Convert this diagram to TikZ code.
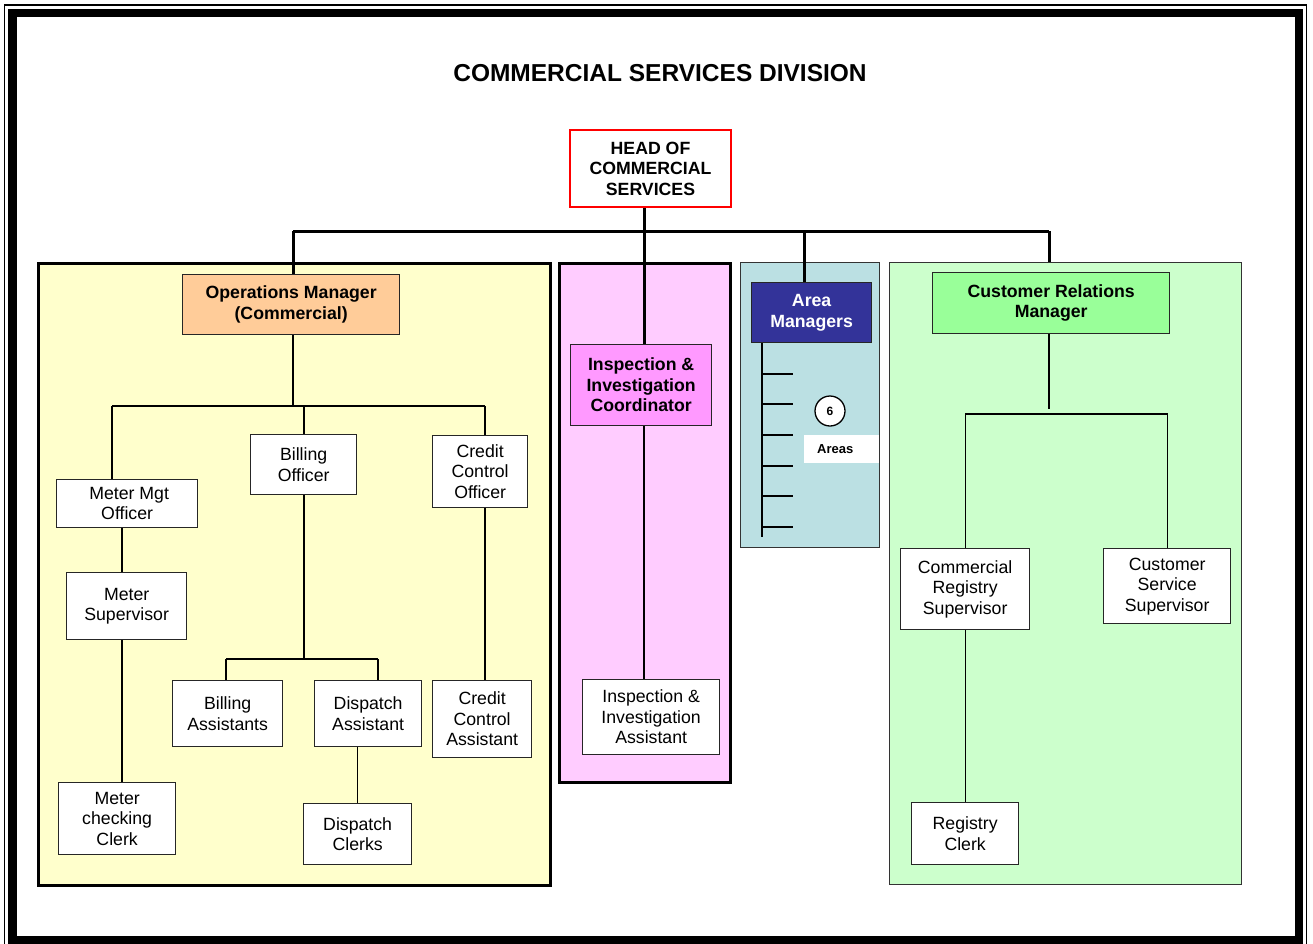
\documentclass[tikz,border=0pt]{standalone}
\usepackage{fontspec}
\setmainfont{Liberation Sans}
\usetikzlibrary{calc}

\definecolor{opspanel}{HTML}{FFFFCC}
\definecolor{insppanel}{HTML}{FFCCFF}
\definecolor{areapanel}{HTML}{BBE0E3}
\definecolor{custpanel}{HTML}{CCFFCC}
\definecolor{opsfill}{HTML}{FFCC99}
\definecolor{inspfill}{HTML}{FF99FF}
\definecolor{areafill}{HTML}{333399}
\definecolor{custfill}{HTML}{99FF99}

\begin{document}
\begin{tikzpicture}[x=1pt,y=-1pt,
  box/.style={draw=black!85, line width=1.3pt, fill=white, inner sep=0pt,
    align=center, anchor=north west, font=\fontsize{17.7}{20.5}\selectfont},
  bbox/.style={box, font=\bfseries\fontsize{17.7}{20.5}\selectfont},
  sz/.style n args={2}{minimum width=#1, minimum height=#2},
  panel/.style={inner sep=0pt, anchor=north west},
  link/.style={line width=1.3pt, black},
  bus/.style={line width=3pt, black}]

\useasboundingbox (0,0) rectangle (1313,943);

% double frame
\draw[line width=1.3pt] (4.5,5) rectangle (1306.5,946);
\draw[line width=8.5pt] (12.5,13) rectangle (1299,940);

% title
\node[font=\bfseries\fontsize{24.5}{28}\selectfont] (title) at (660,73) {COMMERCIAL SERVICES DIVISION};

% section panels
\node[panel, sz={512}{622}, fill=opspanel, draw=black, line width=2.5pt] (yp) at (37,262) {};
\node[panel, sz={171}{519}, fill=insppanel, draw=black, line width=2.5pt] (pp) at (558,262) {};
\node[panel, sz={139}{285}, fill=areapanel, draw=black!80, line width=1.3pt] (tp) at (740,262) {};
\node[panel, sz={352}{622}, fill=custpanel, draw=black!80, line width=1.3pt] (gp) at (889,262) {};

% head
\node[bbox, sz={161}{77}, draw=red, line width=2pt] (head) at (569,129) {HEAD OF\\COMMERCIAL\\SERVICES};

% operations
\node[bbox, sz={217}{60}, fill=opsfill] (opsm) at (182,274) {Operations Manager\\(Commercial)};
\node[box, sz={141}{48}] (mmo) at (56,479) {\hspace*{4pt}Meter Mgt\\Officer};
\node[box, sz={120}{67}] (msup) at (66,572) {Meter\\Supervisor};
\node[box, sz={117}{72}] (mcc) at (58,782) {Meter\\checking\\Clerk};
\node[box, sz={106}{60}] (bo) at (250,434) {Billing\\Officer};
\node[box, sz={95}{72}] (cco) at (432,435) {Credit\\Control\\Officer};
\node[box, sz={110}{66}] (ba) at (172,680) {Billing\\Assistants};
\node[box, sz={107}{66}] (da) at (314,680) {Dispatch\\Assistant};
\node[box, sz={108}{61}] (dc) at (303,803) {Dispatch\\Clerks};
\node[box, sz={99}{77}] (cca) at (432,680) {Credit\\Control\\Assistant};

% inspection
\node[bbox, sz={141}{81}, fill=inspfill] (coord) at (570,344) {Inspection \&\\Investigation\\Coordinator};
\node[box, sz={137}{75}] (iia) at (582,679) {Inspection \&\\Investigation\\Assistant};

% areas
\node[bbox, sz={120}{60}, fill=areafill, text=white] (area) at (751,282) {Area\\Managers};
\node[circle, draw=black, line width=1.3pt, fill=white, minimum size=30pt, inner sep=0pt,
  font=\bfseries\fontsize{12}{14}\selectfont] (six) at (830,411) {6};
\node[fill=white, anchor=north west, inner xsep=13pt, inner ysep=0pt, text width=49pt,
  minimum height=28pt, align=left, font=\bfseries\fontsize{13}{15}\selectfont] (areas) at (804,435) {Areas};

% customer relations
\node[bbox, sz={237}{61}, fill=custfill] (crm) at (932,272) {Customer Relations\\Manager};
\node[box, sz={129}{81}] (crs) at (900,548) {Commercial\\Registry\\Supervisor};
\node[box, sz={127}{75}] (css) at (1103,548) {Customer\\Service\\Supervisor};
\node[box, sz={107}{62}] (rc) at (911,802) {Registry\\Clerk};

% top-level bus
\coordinate (busL) at (293,231);
\coordinate (busR) at (1049,231);
\coordinate (hb) at (644,231);
\coordinate (am) at (804,231);
\draw[bus] (head.south -| hb) -- (hb);
\draw[bus] (busL) -- (busR);
\draw[bus] (busL) -- (busL |- opsm.north);
\draw[bus] (hb) -- (hb |- coord.north);
\draw[bus] (am) -- (am |- area.north);
\draw[bus] (busR) -- (busR |- gp.north);

% operations tree
\coordinate (oJ) at (293,406);
\coordinate (oL) at (112,406);
\coordinate (oM) at (304,406);
\coordinate (oR) at (485,406);
\coordinate (mx) at (122,0);
\draw[link] (opsm.south -| oJ) -- (oJ);
\draw[link] (oL) -- (oR);
\draw[link] (oL) -- (oL |- mmo.north);
\draw[link] (oM) -- (oM |- bo.north);
\draw[link] (oR) -- (oR |- cco.north);
\draw[link] (cco.south -| oR) -- (cca.north -| oR);
\draw[link] (mmo.south -| mx) -- (msup.north -| mx);
\draw[link] (msup.south -| mx) -- (mcc.north -| mx);
\coordinate (bJ) at (304,659);
\coordinate (bL) at (226,659);
\coordinate (bR) at (378,659);
\draw[link] (bo.south -| bJ) -- (bJ);
\draw[link] (bL) -- (bR);
\draw[link] (bL) -- (bL |- ba.north);
\draw[link] (bR) -- (bR |- da.north);
\draw[link] (dc.north |- da.south) -- (dc.north);

% inspection link
\draw[link] (coord.south -| hb) -- (iia.north -| hb);

% six area branches
\coordinate (av) at (762,537);
\draw[line width=2.5pt] (area.south -| av) -- (av);
\foreach \ty in {374,404,435,466,496,527}
  \draw[line width=2.5pt] (762,\ty) -- (793,\ty);

% customer relations tree
\coordinate (gj) at (1049,409);
\coordinate (gbar) at (1000,414);
\draw[link] (crm.south -| gj) -- (gj);
\draw[link] (crs.north) -- (crs.north |- gbar) -- (css.north |- gbar) -- (css.north);
\draw[link] (crs.south) -- (rc.north);

\end{tikzpicture}
\end{document}
